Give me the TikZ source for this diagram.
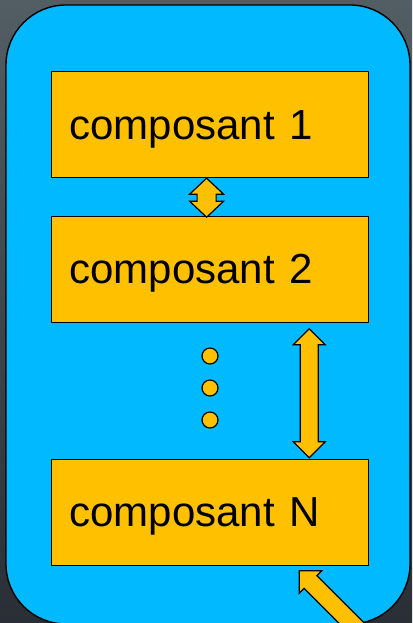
\documentclass[tikz,border=0pt]{standalone}
\usepackage{fontspec}
\setmainfont{Liberation Sans}
\usetikzlibrary{calc}
\definecolor{bgtop}{HTML}{535D64}
\definecolor{bgbot}{HTML}{2A2F36}
\definecolor{panelblue}{HTML}{00B9FF}
\definecolor{compfill}{HTML}{FFC000}
\begin{document}
\begin{tikzpicture}[x=1pt,y=-1pt,
  panelbox/.style={draw=black,line width=1.4pt,fill=panelblue,rounded corners=60pt},
  compbox/.style={draw=black,line width=1.2pt,fill=compfill,anchor=north west,
    minimum width=317pt,minimum height=106pt,text width=281pt,inner xsep=18pt,
    align=left,text depth=0pt,font=\fontsize{42}{50}\selectfont},
  arrowshape/.style={draw=black,line width=1.2pt,fill=compfill,line join=miter},
  dotnode/.style={circle,draw=black,line width=1.2pt,fill=compfill,minimum size=16pt,inner sep=0pt}]
\useasboundingbox (0,0) rectangle (412,623);
\shade[top color=bgtop,bottom color=bgbot] (0,0) rectangle (412,623);
\begin{scope}
\clip (0,0) rectangle (412,623);
\draw[panelbox] (6,5) rectangle (410,624);
% components
\node[compbox] (box1) at (51,71) {composant 1};
\node[compbox] (box2) at (51,215.5) {composant 2};
\node[compbox] (boxN) at (51,458.5) {composant N};
% dots
\node[dotnode] (d1) at (210,356) {};
\node[dotnode] (d2) at (210,388) {};
\node[dotnode] (d3) at (210,420) {};
% small double arrow between box1 and box2
\coordinate (a1) at ($(box1.south)+(-3.5,0)$);
\draw[arrowshape] (a1) -- ++(17,16) -- ++(-7.5,0) -- ++(0,7) -- ++(7.5,0)
  -- ++(-17,16) -- ++(-17,-16) -- ++(7.5,0) -- ++(0,-7) -- ++(-7.5,0) -- cycle;
% long double arrow between box2 and boxN
\coordinate (a2) at ($(box2.south east)+(-60,6)$);
\draw[arrowshape] (a2) -- ++(16,16) -- ++(-7,0) -- ++(0,97) -- ++(7,0)
  -- ++(-16,16) -- ++(-16,-16) -- ++(7,0) -- ++(0,-97) -- ++(-7,0) -- cycle;
% incoming arrow to boxN
\coordinate (a3) at ($(boxN.south east)+(-70,5)$);
\begin{scope}[shift={(a3)},rotate=-45]
\draw[arrowshape] (0,0) -- (16,-16) -- (16,-9) -- (140,-9) -- (140,9) -- (16,9) -- (16,16) -- cycle;
\end{scope}
\end{scope}
\end{tikzpicture}
\end{document}
